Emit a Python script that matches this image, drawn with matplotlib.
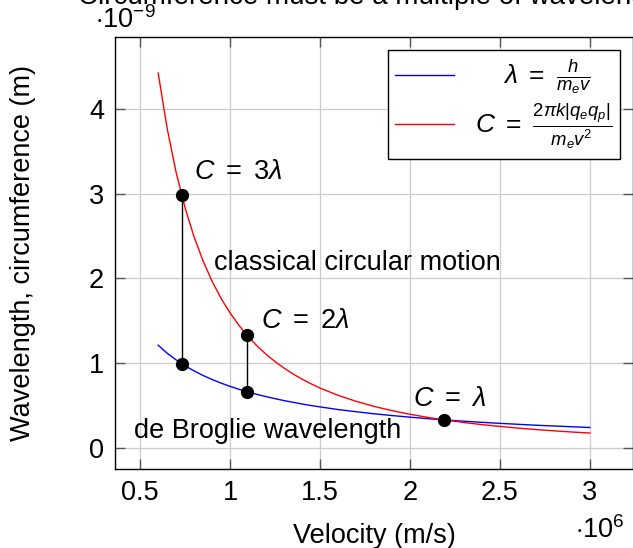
import matplotlib
matplotlib.use("Agg")
import matplotlib.pyplot as plt

plt.rcParams['font.family'] = ['Liberation Sans', 'DejaVu Sans']
plt.rcParams['mathtext.fontset'] = 'custom'
plt.rcParams['mathtext.rm'] = 'Liberation Sans'
plt.rcParams['mathtext.it'] = 'Liberation Sans:italic'
plt.rcParams['mathtext.sf'] = 'Liberation Sans'

# velocity in 1e6 m/s, lengths in 1e-9 m
v = [0.60, 0.65, 0.70, 0.75, 0.80, 0.85, 0.90, 0.95, 1.00, 1.05, 1.10, 1.15,
     1.20, 1.25, 1.30, 1.35, 1.40, 1.45, 1.50, 1.60, 1.70, 1.80, 1.90, 2.00,
     2.10, 2.20, 2.30, 2.40, 2.50, 2.60, 2.70, 2.80, 2.90, 3.00]
wavelength = [1.212, 1.118, 1.039, 0.969, 0.909, 0.855, 0.808, 0.765, 0.727,
              0.692, 0.661, 0.632, 0.606, 0.582, 0.559, 0.539, 0.519, 0.501,
              0.485, 0.454, 0.428, 0.404, 0.383, 0.364, 0.346, 0.330, 0.316,
              0.303, 0.291, 0.280, 0.269, 0.260, 0.251, 0.242]
circumference = [4.421, 3.767, 3.248, 2.829, 2.487, 2.203, 1.965, 1.763, 1.592,
                 1.444, 1.315, 1.203, 1.105, 1.019, 0.942, 0.873, 0.812, 0.757,
                 0.707, 0.622, 0.551, 0.491, 0.441, 0.398, 0.361, 0.329, 0.301,
                 0.276, 0.255, 0.235, 0.218, 0.203, 0.189, 0.177]

# C = n * lambda
v_n = [0.730, 1.095, 2.189]
lam_n = [0.996, 0.664, 0.332]
circ_n = [2.988, 1.328, 0.332]

fig = plt.figure(figsize=(6.33, 5.48), dpi=100)
ax = fig.add_axes([115 / 633, 79 / 548, 518 / 633, 432 / 548])

ax.grid(True, color='#cccccc', linewidth=0.9)
ax.set_axisbelow(True)

ax.plot(v, wavelength, color='blue', linewidth=1.0,
        label=r'$\ \ \ \ \lambda\ =\ \frac{h}{m_e v}$')
ax.plot(v, circumference, color='red', linewidth=1.0,
        label=r'$C\ =\ \frac{2\pi k|q_e q_p|}{m_e v^2}$')

for i in range(2):
    ax.plot([v_n[i], v_n[i]], [lam_n[i], circ_n[i]], color='black', linewidth=1.0)
ax.plot(v_n, lam_n, 'o', color='black', markersize=8.5, linestyle='none')
ax.plot(v_n[:2], circ_n[:2], 'o', color='black', markersize=8.5, linestyle='none')

fs = 19.5
ax.text(0.80, 3.25, r'$C\ =\ 3\lambda$', fontsize=fs, va='center')
ax.text(1.17, 1.50, r'$C\ =\ 2\lambda$', fontsize=fs, va='center')
ax.text(2.22, 0.58, r'$C\ =\ \lambda$', fontsize=fs, va='center', ha='center')
ax.text(1.71, 2.18, 'classical circular motion', fontsize=fs, va='center', ha='center')
ax.text(1.21, 0.20, 'de Broglie wavelength', fontsize=fs, va='center', ha='center')

ax.set_xlim(0.36, 3.24)
ax.set_ylim(-0.247, 4.845)
ax.set_xticks([0.5, 1, 1.5, 2, 2.5, 3])
ax.set_xticklabels(['0.5', '1', '1.5', '2', '2.5', '3'])
ax.set_yticks([0, 1, 2, 3, 4])
ax.tick_params(direction='in', length=7, width=1, color='#555555',
               top=True, right=True, labelsize=fs, pad=8)
for s in ax.spines.values():
    s.set_linewidth(1.0)

ax.set_xlabel('Velocity (m/s)', fontsize=fs, labelpad=12)
ax.set_ylabel('Wavelength, circumference (m)', fontsize=fs, labelpad=38)
ax.set_title('Circumference must be a multiple of wavelength', fontsize=20, pad=24)

fig.text(95 / 633, 1 - 20 / 548, r'$\cdot 10^{-9}$', fontsize=fs, va='center')
fig.text(575 / 633, 1 - 530 / 548, r'$\cdot 10^{6}$', fontsize=fs, va='center')

leg = ax.legend(loc='upper right', fontsize=19, frameon=True, fancybox=False,
                edgecolor='black', framealpha=1, handlelength=2.2,
                borderaxespad=0.5, labelspacing=0.2, borderpad=0.3)
leg.get_frame().set_linewidth(1.0)

fig.savefig('out.png', dpi=100)
